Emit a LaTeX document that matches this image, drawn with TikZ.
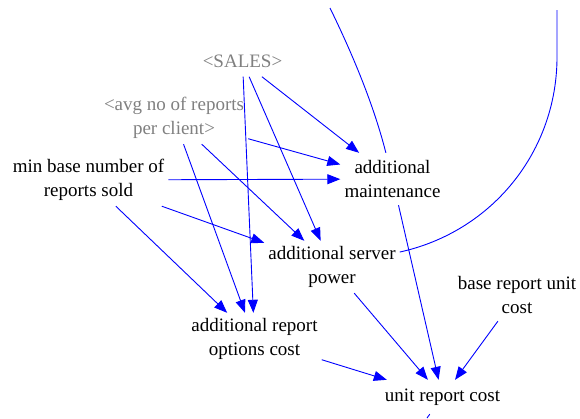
\documentclass[tikz,border=0pt]{standalone}
\usepackage{fontspec}
\setmainfont{Liberation Serif}
\usetikzlibrary{arrows.meta}
\definecolor{vblue}{RGB}{0,0,255}
\definecolor{vgray}{RGB}{128,128,128}
\begin{document}
\begin{tikzpicture}[x=1pt,y=-1pt,
  var/.style={font=\fontsize{19}{24}\selectfont, align=center, inner xsep=4pt, inner ysep=0pt, text=black},
  two/.style={var, minimum height=52pt},
  one/.style={var, minimum height=30pt},
  shadowvar/.style={text=vgray},
  link/.style={vblue, line width=0.9pt, -{Triangle[length=13pt,width=10pt]}},
  plain/.style={vblue, line width=0.9pt}]
\useasboundingbox (0,0) rectangle (580,418);

\node[one, shadowvar] (sales) at (242.5,61.5) {<SALES>};
\node[two, shadowvar] (avg) at (174,118) {<avg no of reports\\per client>};
\node[two] (minbase) at (88.5,180) {min base number of\\reports sold};
\node[two] (maint) at (392.5,179) {additional\\maintenance};
\node[two] (server) at (332,267) {additional server\\power};
\node[two] (opts) at (254.5,339) {additional report\\options cost};
\node[two] (base) at (517,295) {base report unit\\cost};
\node[var, minimum height=34pt] (unit) at (442.5,397) {unit report cost};

\coordinate (topA) at (330,8);
\coordinate (topB) at (557,10);
\coordinate (bendB) at (557,57);
\coordinate (down) at (427,418);

\draw[link] (sales) -- (maint);
\draw[link] (sales) -- (server);
\draw[link] (sales) -- (opts);
\draw[link] (avg) -- (maint);
\draw[link] (avg) -- (server);
\draw[link] (avg) -- (opts);
\draw[link] (minbase) -- (maint);
\draw[link] (minbase) -- (server);
\draw[link] (minbase) -- (opts);
\draw[link] (maint) -- (unit);
\draw[link] (server) -- (unit);
\draw[link] (opts) -- (unit);
\draw[link] (base) -- (unit);
\draw[plain] (unit) -- (down);
\draw[plain] (topA) .. controls (352,53) and (373.5,104) .. (maint);
\draw[plain] (topB) -- (bendB) .. controls (557,150.5) and (493,231.5) .. (server);
\end{tikzpicture}
\end{document}
